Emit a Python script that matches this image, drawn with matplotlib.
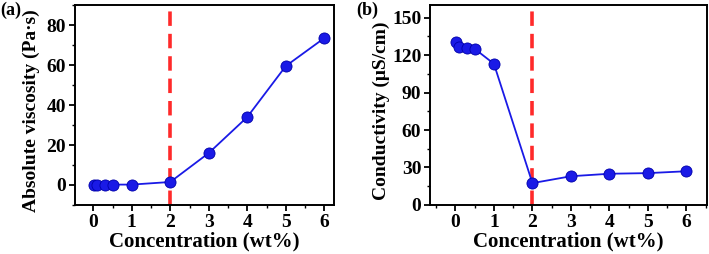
import matplotlib
matplotlib.use("Agg")
import matplotlib.pyplot as plt
from matplotlib.ticker import MultipleLocator

plt.rcParams["font.family"] = ["Liberation Serif", "DejaVu Serif"]
plt.rcParams["font.weight"] = "bold"

# data
conc = [0.02, 0.1, 0.3, 0.5, 1, 2, 3, 4, 5, 6]
viscosity = [0.2, 0.2, 0.2, 0.2, 0.2, 1.5, 16, 34, 59.5, 73.5]
conductivity = [130.5, 126.5, 126, 125, 113, 17.5, 23, 25, 25.5, 27]

BLUE = "#1a1ae6"
RED = "#ff2a2a"

fig = plt.figure(figsize=(7.09, 2.54), dpi=100)
ax1 = fig.add_axes([0.106, 0.193, 0.365, 0.787])
ax2 = fig.add_axes([0.607, 0.193, 0.390, 0.787])


def draw(ax, y, xlim, ylim, ymaj, ymin, ylabel, lx):
    ax.plot(conc, y, "-", color=BLUE, lw=1.3,
            marker="o", ms=8, mfc=BLUE, mec="#0000aa", mew=0.6, zorder=3)
    ax.axvline(2, color=RED, lw=2.6, ls=(0, (4, 2.2)), zorder=2)
    ax.set_xlim(*xlim)
    ax.set_ylim(*ylim)
    ax.xaxis.set_major_locator(MultipleLocator(1))
    ax.xaxis.set_minor_locator(MultipleLocator(0.5))
    ax.yaxis.set_major_locator(MultipleLocator(ymaj))
    ax.yaxis.set_minor_locator(MultipleLocator(ymin))
    ax.tick_params(which="major", direction="out", length=4.5, width=1.3,
                   labelsize=14, pad=2)
    ax.tick_params(which="minor", direction="out", length=2.5, width=1.0)
    for s in ax.spines.values():
        s.set_linewidth(1.4)
    for lab in ax.get_xticklabels() + ax.get_yticklabels():
        lab.set_fontweight("bold")
    ax.set_xlabel("Concentration (wt%)", fontsize=15, fontweight="bold", labelpad=0)
    ax.set_ylabel(ylabel, fontsize=14, fontweight="bold")
    ax.yaxis.set_label_coords(lx, 0.47)


draw(ax1, viscosity, (-0.47, 6.25), (-10, 90), 20, 10,
     "Absolute viscosity (Pa·s)", -0.135)
draw(ax2, conductivity, (-0.65, 6.53), (0, 160), 30, 15,
     "Conductivity (μS/cm)", -0.145)

fig.text(0.0, 0.995, "(a)", fontsize=13, fontweight="bold", va="top", ha="left")
fig.text(0.503, 0.995, "(b)", fontsize=13, fontweight="bold", va="top", ha="left")

fig.savefig("out.png", dpi=100)
